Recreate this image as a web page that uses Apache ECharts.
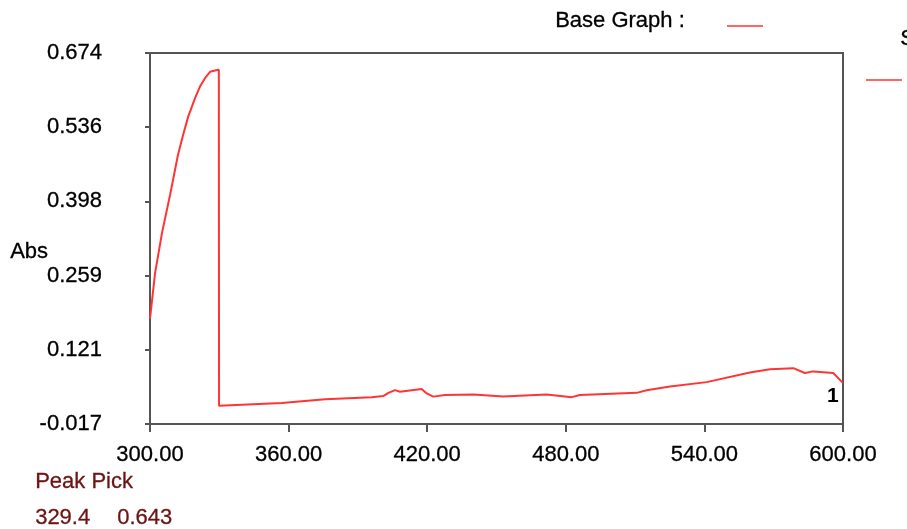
<!DOCTYPE html>
<html>
<head>
<meta charset="utf-8">
<script src="https://cdn.jsdelivr.net/npm/echarts@6/dist/echarts.min.js"></script>
<style>
html,body{margin:0;padding:0;background:#fff;}
#c{width:907px;height:529px;}
</style>
</head>
<body>
<div id="c"></div>
<script>
// Wavelength (nm) and absorbance
const wavelengths = [300.0, 302.2, 305.2, 308.7, 312.1, 314.3, 316.5, 319.5, 321.6, 323.8, 326.0, 328.6, 329.4, 329.8,
  329.9, 357.0, 375.8, 396.0, 401.0, 403.2, 406.1, 408.2, 417.6, 419.8, 422.6, 427.7, 440.0, 452.9, 471.7, 482.6,
  486.1, 510.7, 515.0, 525.1, 541.0, 559.7, 568.4, 578.5, 583.5, 587.1, 595.8, 599.4, 600.0];
const absorbance = [0.179, 0.264, 0.339, 0.410, 0.484, 0.521, 0.555, 0.590, 0.611, 0.627, 0.639, 0.642, 0.643, 0.643,
  0.017, 0.022, 0.029, 0.033, 0.035, 0.041, 0.046, 0.043, 0.048, 0.040, 0.034, 0.037, 0.038, 0.034, 0.038, 0.033,
  0.037, 0.041, 0.046, 0.053, 0.061, 0.079, 0.085, 0.087, 0.078, 0.081, 0.078, 0.062, 0.060];
const xTicks = [300, 360, 420, 480, 540, 600];
const yTicks = [-0.017, 0.121, 0.259, 0.398, 0.536, 0.674];
const peakPick = {wavelength: '329.4', abs: '0.643'};

const FONT = '"Liberation Sans", Arial, sans-serif';
const chart = echarts.init(document.getElementById('c'), null, {renderer: 'canvas'});
const seriesData = wavelengths.map((w, i) => [w, absorbance[i]]);
const yMin = yTicks[0], yMax = yTicks[yTicks.length - 1];
const yInt = (yMax - yMin) / (yTicks.length - 1);
const txt = {fill: '#000', stroke: '#000', lineWidth: 0.3};

chart.setOption({
  backgroundColor: '#ffffff',
  animation: false,
  grid: {left: 150, right: 64, top: 53, bottom: 105, show: true, borderColor: '#555', borderWidth: 2, backgroundColor: 'transparent'},
  xAxis: {
    type: 'value', min: xTicks[0], max: xTicks[xTicks.length - 1], interval: xTicks[1] - xTicks[0],
    axisLine: {show: true, onZero: false, lineStyle: {color: '#555', width: 2}},
    axisTick: {show: true, length: 8, lineStyle: {color: '#555', width: 2}},
    splitLine: {show: false},
    axisLabel: {margin: 20, fontSize: 22, fontFamily: FONT, color: '#000', textBorderColor: '#000', textBorderWidth: 0.3, formatter: v => v.toFixed(2)}
  },
  yAxis: {
    type: 'value', min: yMin, max: yMax, interval: yInt,
    axisLine: {show: true, onZero: false, lineStyle: {color: '#555', width: 2}},
    axisTick: {show: true, length: 5, lineStyle: {color: '#555', width: 2}},
    splitLine: {show: false},
    axisLabel: {margin: 48, fontSize: 22, fontFamily: FONT, color: '#000', textBorderColor: '#000', textBorderWidth: 0.3, formatter: v => v.toFixed(3)}
  },
  series: [{
    type: 'line', data: seriesData, symbol: 'none', smooth: false,
    lineStyle: {color: '#ff3535', width: 2}
  }],
  graphic: [
    {type: 'text', left: 10, top: 241, style: Object.assign({text: 'Abs', font: '22px ' + FONT}, txt)},
    {type: 'text', left: 555, top: 10, style: Object.assign({text: 'Base Graph :', font: '22px ' + FONT}, txt)},
    {type: 'line', shape: {x1: 727, y1: 26, x2: 763, y2: 26}, style: {stroke: '#ff3535', lineWidth: 1.6}},
    {type: 'text', left: 900, top: 28, style: Object.assign({text: 'Sample :', font: '22px ' + FONT}, txt)},
    {type: 'line', shape: {x1: 866, y1: 80, x2: 902, y2: 80}, style: {stroke: '#ff3535', lineWidth: 1.6}},
    {type: 'text', left: 827, top: 386, style: {text: '1', font: 'bold 21px ' + FONT, fill: '#000'}},
    {type: 'text', left: 35, top: 471, style: {text: 'Peak Pick', font: '22px ' + FONT, fill: '#6b1414', stroke: '#6b1414', lineWidth: 0.3}},
    {type: 'text', left: 35, top: 507, style: {text: peakPick.wavelength, font: '22px ' + FONT, fill: '#6b1414', stroke: '#6b1414', lineWidth: 0.3}},
    {type: 'text', left: 117, top: 507, style: {text: peakPick.abs, font: '22px ' + FONT, fill: '#6b1414', stroke: '#6b1414', lineWidth: 0.3}}
  ]
});
</script>
</body>
</html>
